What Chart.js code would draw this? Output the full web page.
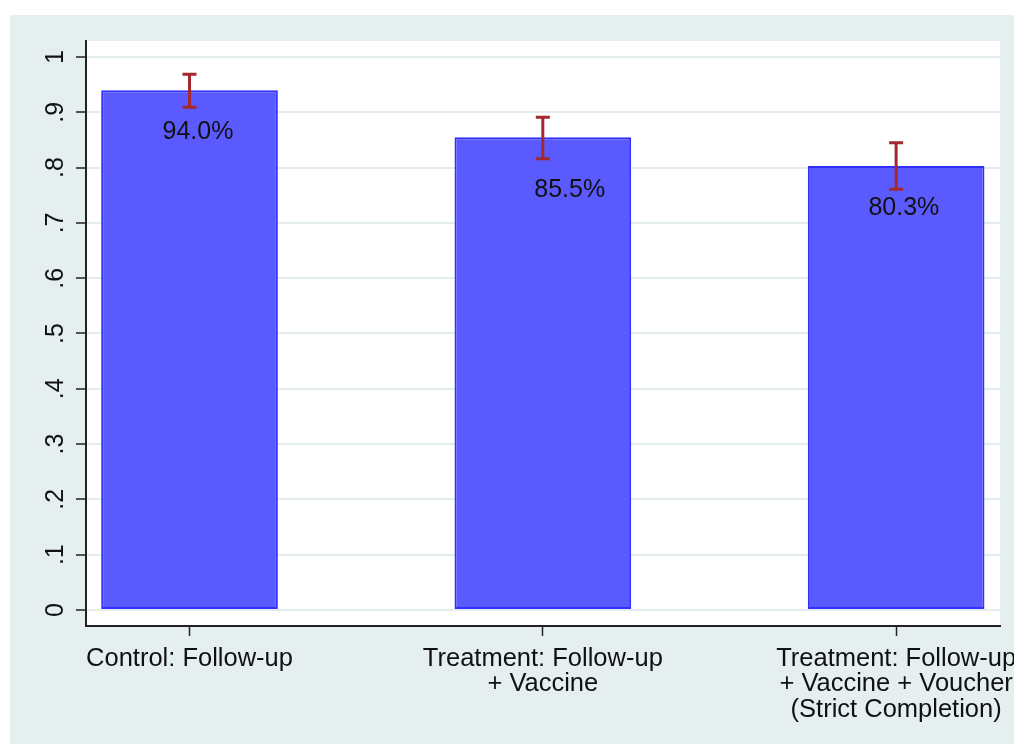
<!DOCTYPE html>
<html>
<head>
<meta charset="utf-8">
<script src="https://cdn.jsdelivr.net/npm/chart.js@4/dist/chart.umd.min.js"></script>
<style>
  html, body { margin: 0; padding: 0; background: #ffffff; }
  #wrap { width: 1014px; height: 744px; }
</style>
</head>
<body>
<div id="wrap"><canvas id="barChart" width="1014" height="744"></canvas></div>
<script>
// groups on the x axis (one line per array item)
const groups = [
    ['Control: Follow-up'],
    ['Treatment: Follow-up', '+ Vaccine'],
    ['Treatment: Follow-up', '+ Vaccine + Voucher', '(Strict Completion)']
];
const groupPos = [1, 2, 3];

// share completing, with 95% CI
const shares = [0.94, 0.855, 0.803];
const ciLow  = [0.909, 0.816, 0.761];
const ciHigh = [0.969, 0.891, 0.845];

// where the value text sits (data units, like stata's text())
const labelAtX = [1.024, 2.076, 3.022];
const labelAtY = [0.864, 0.759, 0.727];

const yTicks = [0, 0.1, 0.2, 0.3, 0.4, 0.5, 0.6, 0.7, 0.8, 0.9, 1];
const yTickLabels = ['0', '.1', '.2', '.3', '.4', '.5', '.6', '.7', '.8', '.9', '1'];

const FONT = '"Liberation Sans", Arial, sans-serif';

// background: light bluish graph region, white plot region
const backgroundPlugin = {
    id: 'stataBackground',
    beforeDraw(chart) {
        const ctx = chart.ctx;
        const a = chart.chartArea;
        ctx.save();
        ctx.fillStyle = '#ffffff';
        ctx.fillRect(0, 0, chart.width, chart.height);
        ctx.fillStyle = '#e5eff0';
        ctx.fillRect(10, 15, chart.width - 10, chart.height - 15);
        ctx.fillStyle = '#ffffff';
        ctx.fillRect(a.left, a.top, a.right - a.left, a.bottom - a.top);
        ctx.restore();
    }
};

// capped CI lines plus the percentage text
const errorBarPlugin = {
    id: 'errorBars',
    afterDatasetsDraw(chart) {
        const ctx = chart.ctx;
        const xs = chart.scales.x;
        const ys = chart.scales.y;
        ctx.save();
        ctx.strokeStyle = '#a3292e';
        ctx.lineWidth = 3;
        groupPos.forEach((g, i) => {
            const x = xs.getPixelForValue(g);
            const yLo = ys.getPixelForValue(ciLow[i]);
            const yHi = ys.getPixelForValue(ciHigh[i]);
            ctx.beginPath();
            ctx.moveTo(x, yLo);
            ctx.lineTo(x, yHi);
            ctx.moveTo(x - 7, yLo);
            ctx.lineTo(x + 7, yLo);
            ctx.moveTo(x - 7, yHi);
            ctx.lineTo(x + 7, yHi);
            ctx.stroke();
        });
        ctx.fillStyle = '#111111';
        ctx.font = '25px ' + FONT;
        ctx.textAlign = 'center';
        ctx.textBaseline = 'middle';
        shares.forEach((v, i) => {
            const x = xs.getPixelForValue(labelAtX[i]);
            const y = ys.getPixelForValue(labelAtY[i]);
            ctx.fillText((v * 100).toFixed(1) + '%', x, y);
        });
        ctx.restore();
    }
};

const ctx = document.getElementById('barChart').getContext('2d');
new Chart(ctx, {
    type: 'bar',
    data: {
        datasets: [{
            data: shares.map((v, i) => ({ x: groupPos[i], y: v })),
            backgroundColor: '#5a5aff',
            borderColor: '#3030ff',
            borderWidth: 2,
            borderSkipped: false,
            barPercentage: 0.5,
            categoryPercentage: 1
        }]
    },
    options: {
        responsive: false,
        animation: false,
        layout: { padding: { top: 41, right: 14, left: 0, bottom: 0 } },
        plugins: {
            legend: { display: false },
            tooltip: { enabled: false }
        },
        scales: {
            x: {
                type: 'linear',
                offset: false,
                min: 0.707,
                max: 3.294,
                afterBuildTicks: (scale) => {
                    scale.ticks = groupPos.map(v => ({ value: v }));
                },
                afterFit: (scale) => {
                    scale.height = 118;
                    scale.paddingLeft = 0;
                    scale.paddingRight = 0;
                },
                grid: {
                    offset: false,
                    drawOnChartArea: false,
                    drawTicks: true,
                    tickLength: 10,
                    tickColor: '#222222',
                    tickWidth: 1.5
                },
                border: { display: true, color: '#222222', width: 2 },
                ticks: {
                    autoSkip: false,
                    maxRotation: 0,
                    minRotation: 0,
                    padding: 10,
                    color: '#111111',
                    font: { family: FONT, size: 25.5, lineHeight: 1.0 },
                    callback: (value) => {
                        const i = groupPos.indexOf(value);
                        return i >= 0 ? groups[i] : '';
                    }
                }
            },
            y: {
                min: -0.029,
                max: 1.029,
                afterBuildTicks: (scale) => {
                    scale.ticks = yTicks.map(v => ({ value: v }));
                },
                afterFit: (scale) => {
                    scale.width = 86;
                    scale.paddingTop = 0;
                    scale.paddingBottom = 0;
                },
                grid: {
                    color: '#e3edef',
                    lineWidth: 2,
                    drawTicks: true,
                    tickLength: 10,
                    tickColor: '#222222',
                    tickWidth: 1.5
                },
                border: { display: true, color: '#222222', width: 2 },
                ticks: {
                    minRotation: 90,
                    maxRotation: 90,
                    crossAlign: 'center',
                    padding: 9,
                    color: '#111111',
                    font: { family: FONT, size: 25 },
                    callback: (value) => {
                        const i = yTicks.findIndex(t => Math.abs(t - value) < 1e-9);
                        return i >= 0 ? yTickLabels[i] : '';
                    }
                }
            }
        }
    },
    plugins: [backgroundPlugin, errorBarPlugin]
});
</script>
</body>
</html>
